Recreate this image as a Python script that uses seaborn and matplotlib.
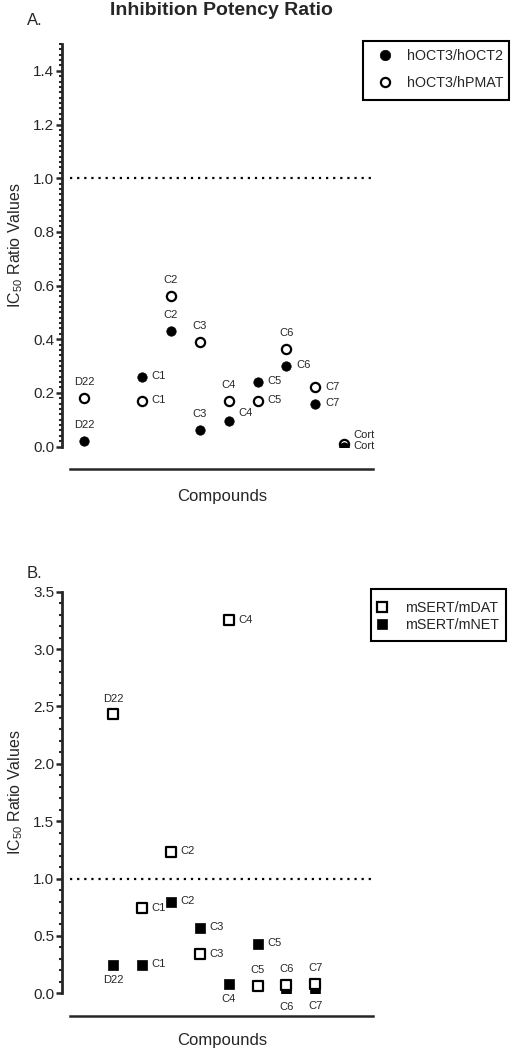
import numpy as np
import pandas as pd
import matplotlib
matplotlib.use("Agg")
import matplotlib.pyplot as plt
from matplotlib.lines import Line2D
from matplotlib.patches import Rectangle
from matplotlib.ticker import MultipleLocator, FormatStrFormatter
import seaborn as sns

# ---------------- data ----------------
# Panel A
a_compounds = ["D22", "C1", "C2", "C3", "C4", "C5", "C6", "C7", "Cort"]
a_slots = [0, 2, 3, 4, 5, 6, 7, 8, 9]
a_oct2 = [0.02, 0.26, 0.43, 0.06, 0.095, 0.24, 0.30, 0.16, 0.0]      # hOCT3/hOCT2 (filled)
a_pmat = [0.18, 0.17, 0.56, 0.39, 0.17, 0.17, 0.365, 0.22, 0.01]     # hOCT3/hPMAT (open)
a_oct2_lab = ["a", "r", "a", "a", "ru", "r", "r", "r", "r"]
a_pmat_lab = ["a", "r", "a", "a", "a", "r", "a", "r", "ru"]

# Panel B
b_compounds = ["D22", "C1", "C2", "C3", "C4", "C5", "C6", "C7"]
b_slots = [1, 2, 3, 4, 5, 6, 7, 8]
b_dat = [2.43, 0.74, 1.23, 0.34, 3.25, 0.06, 0.07, 0.085]   # mSERT/mDAT (open)
b_net = [0.25, 0.245, 0.80, 0.57, 0.08, 0.43, 0.01, 0.02]   # mSERT/mNET (filled)
b_dat_lab = ["a", "r", "r", "r", "r", "a", "a", "a"]
b_net_lab = ["b", "r", "r", "r", "b", "r", "b", "b"]

a_yticks = [0.0, 0.2, 0.4, 0.6, 0.8, 1.0, 1.2, 1.4]
b_yticks = [0.0, 0.5, 1.0, 1.5, 2.0, 2.5, 3.0, 3.5]

# ---------------- style ----------------
sns.set_style("ticks")
plt.rcParams["font.family"] = ["Liberation Sans", "DejaVu Sans"]
plt.rcParams["mathtext.fontset"] = "custom"
plt.rcParams["mathtext.rm"] = "Liberation Sans"

W, H = 516, 1050
fig = plt.figure(figsize=(W / 100, H / 100), dpi=100)

def fx(px):
    return px / W

def fy(py):
    return 1 - py / H

axA = fig.add_axes([fx(70), fy(446.5), (373 - 70) / W, (446.5 - 44) / H])
axB = fig.add_axes([fx(70), fy(993.3), (373 - 70) / W, (993.3 - 591.7) / H])

OFF = {
    "a": ((0, 11.5), "center", "center"),
    "b": ((0, -11), "center", "center"),
    "r": ((7, 0.5), "left", "center"),
    "ru": ((7, 6), "left", "center"),
}

def annotate(ax, xs, ys, names, codes):
    for x, y, n, c in zip(xs, ys, names, codes):
        off, ha, va = OFF[c]
        ax.annotate(n, (x, y), xytext=off, textcoords="offset points",
                    ha=ha, va=va, fontsize=8, zorder=5)

def style_axis(ax, ymax, yticks, minor):
    ax.set_xlim(-0.5, 10)
    ax.set_ylim(0, ymax)
    ax.set_yticks(yticks)
    ax.yaxis.set_minor_locator(MultipleLocator(minor))
    ax.yaxis.set_major_formatter(FormatStrFormatter("%.1f"))
    ax.set_xticks([])
    for lab in ax.get_yticklabels():
        lab.set_fontweight("bold")
    ax.tick_params(axis="y", which="major", length=4.5, width=1.8, labelsize=11, pad=1, direction="out")
    ax.tick_params(axis="y", which="minor", length=2.5, width=1.5, direction="out")
    sns.despine(ax=ax, top=True, right=True)
    ax.spines["left"].set_position(("outward", 5.8))
    ax.spines["bottom"].set_position(("outward", 16))
    ax.spines["left"].set_linewidth(2.0)
    ax.spines["bottom"].set_linewidth(1.8)
    ax.axhline(1.0, color="black", lw=1.6, ls=(0, (1, 2.2)), zorder=1)
    ax.set_xlabel("")
    ax.set_ylabel("")

def legend_box(x0, y0, x1, y1):
    fig.add_artist(Rectangle((fx(x0), fy(y1)), (x1 - x0) / W, (y1 - y0) / H,
                             transform=fig.transFigure, fill=False,
                             edgecolor="black", linewidth=1.5))

# ---------------- panel A ----------------
dfA = pd.DataFrame({"slot": a_slots, "oct2": a_oct2, "pmat": a_pmat})
sns.scatterplot(data=dfA, x="slot", y="pmat", ax=axA, marker="o", s=44,
                color="black", facecolor="white", edgecolor="black",
                linewidth=1.6, legend=False, zorder=3)
sns.scatterplot(data=dfA, x="slot", y="oct2", ax=axA, marker="o", s=46,
                color="black", facecolor="black", edgecolor="black",
                linewidth=0.5, legend=False, zorder=4)
annotate(axA, a_slots, a_pmat, a_compounds, a_pmat_lab)
annotate(axA, a_slots, a_oct2, a_compounds, a_oct2_lab)
style_axis(axA, 1.5, a_yticks, 0.02)

hA = [Line2D([], [], ls="", marker="o", ms=7.5, mfc="black", mec="black", mew=0.5),
      Line2D([], [], ls="", marker="o", ms=6.6, mfc="white", mec="black", mew=1.6)]
axA.legend(hA, ["hOCT3/hOCT2", "hOCT3/hPMAT"], loc="upper left",
           bbox_to_anchor=(fx(377.7), fy(49)), bbox_transform=fig.transFigure,
           frameon=False, fontsize=10.3, handlelength=1.0, handletextpad=1.05,
           labelspacing=0.88, borderpad=0, borderaxespad=0)
legend_box(363, 41, 509, 100)

# ---------------- panel B ----------------
dfB = pd.DataFrame({"slot": b_slots, "dat": b_dat, "net": b_net})
sns.scatterplot(data=dfB, x="slot", y="net", ax=axB, marker="s", s=52,
                color="black", facecolor="black", edgecolor="black",
                linewidth=0.5, legend=False, zorder=3)
sns.scatterplot(data=dfB, x="slot", y="dat", ax=axB, marker="s", s=48,
                color="black", facecolor="white", edgecolor="black",
                linewidth=1.6, legend=False, zorder=4)
annotate(axB, b_slots, b_dat, b_compounds, b_dat_lab)
annotate(axB, b_slots, b_net, b_compounds, b_net_lab)
style_axis(axB, 3.5, b_yticks, 0.1)

hB = [Line2D([], [], ls="", marker="s", ms=6.9, mfc="white", mec="black", mew=1.6),
      Line2D([], [], ls="", marker="s", ms=7.4, mfc="black", mec="black", mew=0.5)]
axB.legend(hB, ["mSERT/mDAT", "mSERT/mNET"], loc="upper left",
           bbox_to_anchor=(fx(374.7), fy(601.5)), bbox_transform=fig.transFigure,
           frameon=False, fontsize=10.3, handlelength=1.0, handletextpad=1.1,
           labelspacing=0.2, borderpad=0, borderaxespad=0)
legend_box(371, 589, 506, 641)

# ---------------- figure texts ----------------
fig.text(fx(221), fy(15), "Inhibition Potency Ratio", ha="center", va="baseline",
         fontsize=14, fontweight="bold")
fig.text(fx(27), fy(25), "A.", ha="left", va="baseline", fontsize=12)
fig.text(fx(27), fy(578), "B.", ha="left", va="baseline", fontsize=12)

ylab = r"IC$_\mathregular{50}$ Ratio Values"
fig.text(fx(16), fy(245), ylab, rotation=90, ha="center", va="center", fontsize=11.5)
fig.text(fx(16), fy(792), ylab, rotation=90, ha="center", va="center", fontsize=11.5)
fig.text(fx(222), fy(497), "Compounds", ha="center", va="center", fontsize=12)
fig.text(fx(222), fy(1040), "Compounds", ha="center", va="center", fontsize=12)

fig.savefig("out.png", dpi=100, facecolor="white")
